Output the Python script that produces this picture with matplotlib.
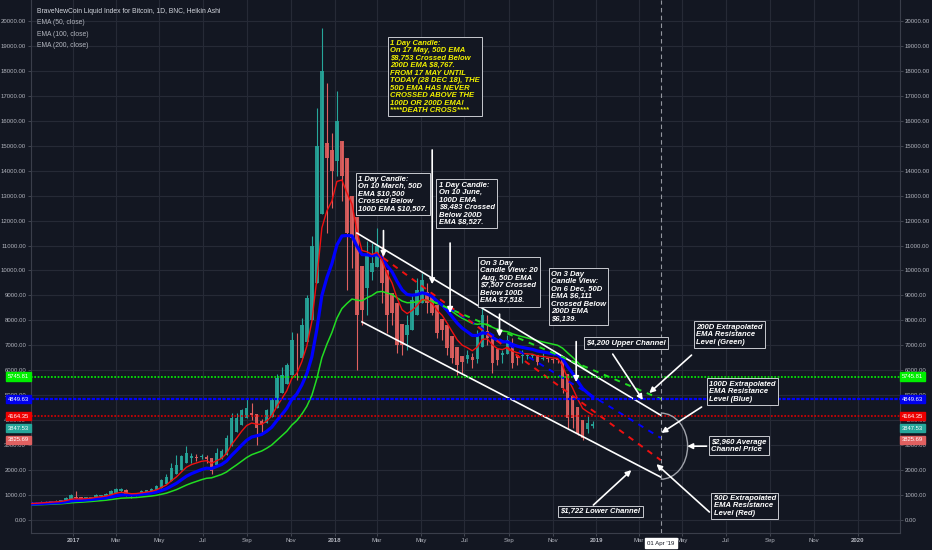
import numpy as np
import pandas as pd
import matplotlib
matplotlib.use('Agg')
import matplotlib.pyplot as plt
import matplotlib.dates as mdates
import matplotlib.transforms as mtransforms
from matplotlib.patches import Arc

# weekly closes before the visible window (only used to seed the EMAs)
warm_close = [450, 460, 455, 445, 530, 575, 690, 740, 640, 670, 650, 670, 655, 605,
              590, 570, 580, 575, 605, 608, 610, 602, 612, 620, 640, 655, 700]

# weekly candles, 2016-11-06 .. 2018-12-30
close = [705, 705, 735, 735, 765, 775, 795, 890,
         1000, 900, 830, 920, 920, 1020, 1000, 1050, 1180, 1260, 1230, 1000, 960,
         1080, 1180, 1200, 1260, 1380, 1600, 1720, 2100, 2200, 2550, 2700, 2550, 2500,
         2550, 2450, 1950, 2700, 2750, 3300, 4100, 4100, 4400, 4500, 4200, 3700, 3800,
         4400, 4800, 5700, 5800, 6200, 7200, 6500, 7800, 8900, 11000, 15000, 18000, 14500, 14000,
         16000, 13800, 11500, 11300, 8200, 8400, 10600, 10300, 11000, 9500, 8200, 8300,
         7000, 7000, 7800, 8800, 9200, 9600, 8700, 8300, 7500, 7600, 6900, 6500, 6200,
         6350, 6600, 6400, 7400, 8200, 7300, 6300, 6400, 6700, 7200, 6300, 6500, 6600,
         6600, 6600, 6350, 6500, 6450, 6400, 6400, 5300, 4100, 4100, 3500, 3300, 3900, 3850]
high = [720, 715, 745, 750, 770, 785, 800, 910,
        1030, 1150, 840, 930, 930, 1050, 1020, 1080, 1200, 1290, 1280, 1240, 1050,
        1100, 1200, 1210, 1280, 1400, 1650, 1850, 2300, 2600, 2600, 2950, 2700, 2650,
        2650, 2600, 2400, 2900, 2850, 3400, 4300, 4300, 4450, 4900, 4700, 4200, 4050,
        4450, 4900, 5850, 6150, 6300, 7550, 7500, 8100, 9000, 11400, 16500, 19700, 17500, 15500,
        17200, 15000, 14000, 12000, 11000, 9000, 11200, 11100, 11700, 11000, 9200, 9000,
        8500, 7200, 8200, 9000, 9700, 9900, 9500, 8800, 8300, 7700, 7700, 6900, 6500,
        6500, 6800, 6700, 7600, 8500, 8200, 7100, 6600, 6800, 7400, 7300, 6600, 6800,
        6650, 6650, 6600, 6700, 6500, 6500, 6450, 6300, 5500, 4300, 3900, 3500, 4200, 3950]
low = [690, 680, 700, 725, 745, 760, 770, 790,
       900, 780, 770, 820, 890, 920, 940, 990, 1050, 1180, 1120, 960, 900,
       950, 1080, 1150, 1200, 1260, 1400, 1600, 1750, 1900, 2200, 2400, 2300, 2350,
       2450, 2300, 1850, 2200, 2600, 2750, 3300, 3900, 4100, 4300, 4000, 3000, 3500,
       4100, 4300, 4800, 5100, 5700, 6200, 5600, 6600, 7800, 9000, 11000, 15000, 11500, 12500,
       13800, 12800, 9200, 10100, 6000, 7800, 8200, 9600, 10200, 8700, 7500, 7800,
       6700, 6600, 6800, 7800, 8700, 9000, 8300, 8200, 7300, 7200, 6600, 6300, 5800,
       5900, 6300, 6100, 6300, 7400, 7000, 5900, 6200, 6300, 6700, 6100, 6200, 6300,
       6450, 6500, 6200, 6400, 6350, 6300, 6300, 5100, 3700, 3700, 3400, 3200, 3500, 3700]

# hand-drawn lines: (start date, start price, end date, end price)
upper_channel = ('2018-02-01', 11500, '2019-04-01', 4200)
lower_channel = ('2018-02-08', 7940, '2019-04-01', 1722)
ema50_ext = ('2018-03-10', 10500, '2019-04-01', 2400)
ema100_ext = ('2018-06-10', 8483, '2019-04-01', 3290)
ema200_ext = ('2018-05-17', 8767, '2019-04-01', 4850)

level_vals = [5745.81, 4849.63, 4164.35]
tag_vals = [5745.81, 4849.63, 4164.35, 3847.53, 3825.69]

BG = '#131722'
GRID = '#262a36'
TXT = '#b2b5be'
GREEN, BLUE, RED = '#00ff00', '#0000ff', '#ff0000'
UP, DOWN = '#26a69a', '#e0605f'


def D(s):
    return mdates.date2num(pd.Timestamp(s))


fig = plt.figure(figsize=(9.32, 5.5), dpi=100)
fig.patch.set_facecolor(BG)
ax = fig.add_axes([31 / 932, 17 / 550, 869 / 932, 533 / 550])
ax.set_facecolor(BG)

# EMAs from weekly closes (alpha matched to the daily period)
dates_all = pd.date_range('2016-05-01', periods=len(warm_close) + len(close), freq='W-SUN')
s = pd.Series(warm_close + close, index=dates_all, dtype=float)
xs_all = mdates.date2num(dates_all - pd.Timedelta(days=3))


def ema(n):
    a = 1 - (1 - 2 / (n + 1)) ** 7
    return s.ewm(alpha=a, adjust=False).mean().values


ax.plot(xs_all, ema(200), color='#22dd22', lw=1.1, zorder=3)
ax.plot(xs_all, ema(100), color=BLUE, lw=2.3, zorder=3)
ax.plot(xs_all, ema(50), color='#f01010', lw=1.0, zorder=3)

# Heikin-Ashi style candles
xs = xs_all[len(warm_close):]
c = np.array(close, dtype=float)
o = np.empty_like(c)
o[0] = warm_close[-1]
for i in range(1, len(c)):
    o[i] = (o[i - 1] + c[i - 1]) / 2
cols = [UP if c[i] >= o[i] else DOWN for i in range(len(c))]
hi = np.maximum(np.array(high), np.maximum(o, c))
lo = np.minimum(np.array(low), np.minimum(o, c))
ax.vlines(xs, lo, hi, colors=cols, lw=0.8, zorder=2)
ax.bar(xs, c - o, bottom=o, width=5.0, color=cols, lw=0, alpha=0.9, zorder=2)

# channel and extrapolated EMA lines
for seg, col, ls, lw in [(upper_channel, 'white', '-', 1.2),
                          (lower_channel, 'white', '-', 1.2),
                          (ema200_ext, '#22dd22', (0, (3, 3)), 1.4),
                          (ema100_ext, BLUE, (0, (3, 3)), 1.4),
                          (ema50_ext, '#f01010', (0, (3, 3)), 1.4)]:
    ax.plot([D(seg[0]), D(seg[2])], [seg[1], seg[3]], color=col, ls=ls, lw=lw, zorder=4)

# horizontal levels
ax.axhline(level_vals[0], color=GREEN, lw=1.2, ls=(0, (1, 1)), zorder=5)
ax.axhline(level_vals[1], color=BLUE, lw=1.6, ls=(0, (1.5, 0.6)), zorder=5)
ax.axhline(level_vals[2], color='#e00000', lw=1.2, ls=(0, (1, 1)), zorder=5)

ax.axvline(D('2019-04-01'), color='#9598a1', lw=0.8, ls=(0, (4, 3)), zorder=5)

# average channel arc
ax.add_patch(Arc((D('2019-04-01'), 2960), 75, 2650, theta1=-90, theta2=90,
                 color='#a0a3ab', lw=1.0, zorder=5))

# arrows
arrows = [(('2018-03-10', 11600), ('2018-03-10', 10550)),
          (('2018-05-17', 14830), ('2018-05-17', 9450)),
          (('2018-06-11', 11100), ('2018-06-11', 8300)),
          (('2018-08-19', 8250), ('2018-08-19', 7350)),
          (('2018-12-04', 7150), ('2018-12-04', 5530)),
          (('2019-01-24', 6650), ('2019-03-07', 4810)),
          (('2019-05-14', 6610), ('2019-03-16', 5090)),
          (('2019-05-28', 4530), ('2019-04-02', 3490)),
          (('2019-06-04', 2960), ('2019-05-08', 2960)),
          (('2019-06-08', 320), ('2019-03-26', 2240)),
          (('2018-12-28', 600), ('2019-02-19', 2000))]
for (t0, v0), (t1, v1) in arrows:
    ax.annotate('', xy=(D(t1), v1), xytext=(D(t0), v0),
                arrowprops=dict(arrowstyle='-|>', color='white', lw=1.2,
                                mutation_scale=8, shrinkA=0, shrinkB=0), zorder=6)

# note boxes
notes = [('2018-03-19', 19250,
          "1 Day Candle:\nOn 17 May, 50D EMA\n$8,753 Crossed Below\n200D EMA $8,767.\n"
          "FROM 17 MAY UNTIL\nTODAY (28 DEC 18), THE\n50D EMA HAS NEVER\n"
          "CROSSED ABOVE THE\n100D OR 200D EMA!\n****DEATH CROSS****", '#f0f000'),
         ('2018-02-03', 13800,
          "1 Day Candle:\nOn 10 March, 50D\nEMA $10,500\nCrossed Below\n100D EMA $10,507.", 'white'),
         ('2018-05-26', 13560,
          "1 Day Candle:\nOn 10 June,\n100D EMA\n$8,483 Crossed\nBelow 200D\nEMA $8,527.", 'white'),
         ('2018-07-23', 10430,
          "On 3 Day\nCandle View: 20\nAug, 50D EMA\n$7,507 Crossed\nBelow 100D\nEMA $7,518.", 'white'),
         ('2018-10-30', 9990,
          "On 3 Day\nCandle View:\nOn 6 Dec, 50D\nEMA $6,111\nCrossed Below\n200D EMA\n$6,139.", 'white'),
         ('2018-12-18', 7230, "$4,200 Upper Channel", 'white'),
         ('2019-05-20', 7870, "200D Extrapolated\nEMA Resistance\nLevel (Green)", 'white'),
         ('2019-06-08', 5580, "100D Extrapolated\nEMA Resistance\nLevel (Blue)", 'white'),
         ('2019-06-10', 3260, "$2,960 Average\nChannel Price", 'white'),
         ('2019-06-14', 1010, "50D Extrapolated\nEMA Resistance\nLevel (Red)", 'white'),
         ('2018-11-12', 490, "$1,722 Lower Channel", 'white')]
for t, v, txt, col in notes:
    ax.text(D(t), v, txt, ha='left', va='top', color=col, fontsize=5.5,
            style='italic', weight='bold', family='Liberation Sans', linespacing=1.1,
            zorder=7,
            bbox=dict(boxstyle='square,pad=0.3', fc=BG, ec='#c8cad0', lw=0.7))

# header texts
ax.text(0.007, 0.979, 'BraveNewCoin Liquid Index for Bitcoin, 1D, BNC, Heikin Ashi',
        transform=ax.transAxes, color='#d1d4dc', fontsize=4.9, family='Liberation Sans',
        va='center', ha='left')
for k, lab in enumerate(['EMA (50, close)', 'EMA (100, close)', 'EMA (200, close)']):
    ax.text(0.007, 0.957 - 0.021 * k, lab, transform=ax.transAxes, color='#b2b5be',
            fontsize=4.9, family='Liberation Sans', va='center', ha='left')

# axes
ax.set_xlim(D('2016-11-03'), D('2020-02-29'))
ax.set_ylim(-520, 20840)
yt = np.arange(0, 20001, 1000)
ax.set_yticks(yt)
ax.set_yticklabels(['%.2f' % v for v in yt])
xt = pd.date_range('2017-01-01', '2020-01-01', freq='2MS')
ax.set_xticks(mdates.date2num(xt))
ax.set_xticklabels([str(d.year) if d.month == 1 else d.strftime('%b') for d in xt])
for lab, d in zip(ax.get_xticklabels(), xt):
    if d.month == 1:
        lab.set_fontweight('bold')
ax.tick_params(axis='both', colors='#4a4e5a', labelcolor=TXT, labelsize=4.3, length=2,
               width=0.6, pad=1.5)
ax.tick_params(axis='y', labelleft=True, labelright=True, left=True, right=True)
for lab in ax.get_xticklabels():
    lab.set_family('Liberation Sans')
for t in ax.yaxis.get_major_ticks():
    t.label1.set_family('Liberation Sans')
    t.label2.set_family('Liberation Sans')
ax.grid(True, color=GRID, lw=0.8)
ax.set_axisbelow(True)
for side in ['left', 'right', 'bottom']:
    ax.spines[side].set_color('#3a3e4a')
ax.spines['top'].set_visible(False)

# date tag on the x axis
xtr = mtransforms.blended_transform_factory(ax.transData, ax.transAxes)
ax.text(D('2019-04-01'), -0.019, "01 Apr '19", transform=xtr, ha='center', va='center',
        fontsize=4.4, color='#131722', family='Liberation Sans', zorder=8,
        bbox=dict(boxstyle='square,pad=0.35', fc='white', ec='white'), clip_on=False)

# price tags on both sides
tag_cols = ['#00ee00', '#0000ee', '#ee0000', '#26a69a', '#e06060']
tag_off = [0, 0, 0, -3, -11]
ytr = mtransforms.blended_transform_factory(ax.transAxes, ax.transData)
for v, col, off in zip(tag_vals, tag_cols, tag_off):
    for xa, ha, dx in [(1.0, 'left', 1.5), (0.0, 'right', -1.5)]:
        ax.annotate('%.2f' % v, xy=(xa, v), xycoords=ytr, xytext=(dx, off),
                    textcoords='offset points', ha=ha, va='center', fontsize=4.2,
                    color='white', family='Liberation Sans', zorder=9, annotation_clip=False,
                    bbox=dict(boxstyle='square,pad=0.3', fc=col, ec=col))

fig.savefig('out.png', dpi=100, facecolor=BG)
